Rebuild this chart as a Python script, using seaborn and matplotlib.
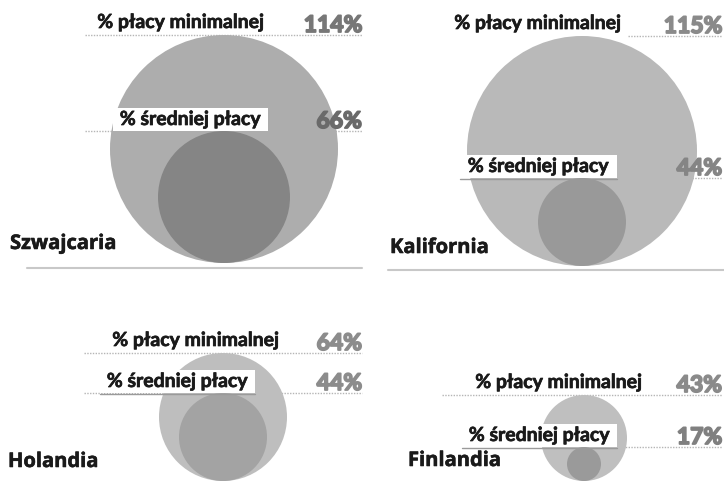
import matplotlib.pyplot as plt
import matplotlib.patheffects as pe
import seaborn as sns
from matplotlib.patches import Circle, Rectangle

# dane: % płacy minimalnej i % średniej płacy
countries = ['Szwajcaria', 'Kalifornia', 'Holandia', 'Finlandia']
min_wage_pct = [114, 115, 64, 43]
avg_wage_pct = [66, 44, 44, 17]
min_label = '% płacy minimalnej'
avg_label = '% średniej płacy'

sns.set_theme(style='white')
plt.rcParams['font.family'] = ['Lato', 'DejaVu Sans']

# układ paneli (piksele): środek koła, dół koła, prawa krawędź %, etykiety
panels = [
    dict(cx=224, base=263, pr=362, min_r=265, min_l0=85, box=(113, 268), avg_l0=85,
         name=(10, 249), rule=(27, 362, 268), big='#adadad', small='#858585',
         pc_min='#777777', pc_avg='#6a6a6a', under=False),
    dict(cx=582, base=266, pr=722, min_r=622, min_l0=628, box=(460, 617), avg_l0=617,
         name=(390, 253), rule=(388, 724, 270), big='#b9b9b9', small='#999999',
         pc_min='#8a8a8a', pc_avg='#858585', under=True),
    dict(cx=223, base=481, pr=362, min_r=280, min_l0=84, box=(100, 255), avg_l0=84,
         name=(8, 467), rule=None, big='#bebebe', small='#a3a3a3',
         pc_min='#8c8c8c', pc_avg='#8c8c8c', under=True),
    dict(cx=584, base=481, pr=722, min_r=643, min_l0=442, box=(462, 617), avg_l0=617,
         name=(408, 466), rule=None, big='#bfbfbf', small='#9a9a9a',
         pc_min='#8a8a8a', pc_avg='#808080', under=True),
]

fig = plt.figure(figsize=(7.24, 4.82), dpi=100)
ax = fig.add_axes([0, 0, 1, 1])
ax.set_xlim(0, 724)
ax.set_ylim(482, 0)
ax.set_aspect('equal')
ax.axis('off')

dot = dict(color='#b5b5b5', lw=1, ls=(0, (1, 1)), zorder=1)
thick_lbl = [pe.withStroke(linewidth=0.5, foreground='#1a1a1a')]
thick_name = [pe.withStroke(linewidth=0.4, foreground='#1a1a1a')]

for name, mn, av, p in zip(countries, min_wage_pct, avg_wage_pct, panels):
    cx, base = p['cx'], p['base']
    # średnica koła = 2 * wartość (px)
    ax.add_patch(Circle((cx, base - mn), mn, color=p['big'], lw=0, zorder=2))
    ax.add_patch(Circle((cx, base - av), av, color=p['small'], lw=0, zorder=3))

    y_min = base - 2 * mn
    y_avg = base - 2 * av
    ax.plot([p['min_l0'], p['pr']], [y_min, y_min], **dot)
    ax.plot([p['avg_l0'], p['pr']], [y_avg, y_avg], **dot)

    ax.text(p['min_r'], y_min - 7, min_label, ha='right', va='baseline',
            fontsize=14, fontweight='bold', color='#1a1a1a', zorder=5,
            path_effects=thick_lbl)
    ax.text(p['pr'], y_min - 3, f'{mn}%', ha='right', va='baseline',
            fontsize=16.5, fontweight='bold', color=p['pc_min'], zorder=5,
            path_effects=[pe.withStroke(linewidth=1.3, foreground=p['pc_min'])])

    x0, x1 = p['box']
    ax.add_patch(Rectangle((x0, y_avg - 23), x1 - x0, 23, color='white', lw=0, zorder=4))
    if p['under']:
        ax.plot([x0, x1], [y_avg + 1, y_avg + 1], color='#9a9a9a', lw=1, zorder=4)
    ax.text((x0 + x1) / 2, y_avg - 6, avg_label, ha='center', va='baseline',
            fontsize=14, fontweight='bold', color='#1a1a1a', zorder=5,
            path_effects=thick_lbl)
    ax.text(p['pr'], y_avg - 3, f'{av}%', ha='right', va='baseline',
            fontsize=16.5, fontweight='bold', color=p['pc_avg'], zorder=5,
            path_effects=[pe.withStroke(linewidth=1.3, foreground=p['pc_avg'])])

    nx, ny = p['name']
    ax.text(nx, ny, name, ha='left', va='baseline', fontsize=14.5, fontweight='bold',
            color='#1a1a1a', family=['Open Sans', 'DejaVu Sans'], zorder=5,
            path_effects=thick_name)
    if p['rule']:
        r0, r1, ry = p['rule']
        ax.plot([r0, r1], [ry, ry], color='#c8c8c8', lw=1.5, zorder=1)

fig.savefig('out.png', dpi=100)
